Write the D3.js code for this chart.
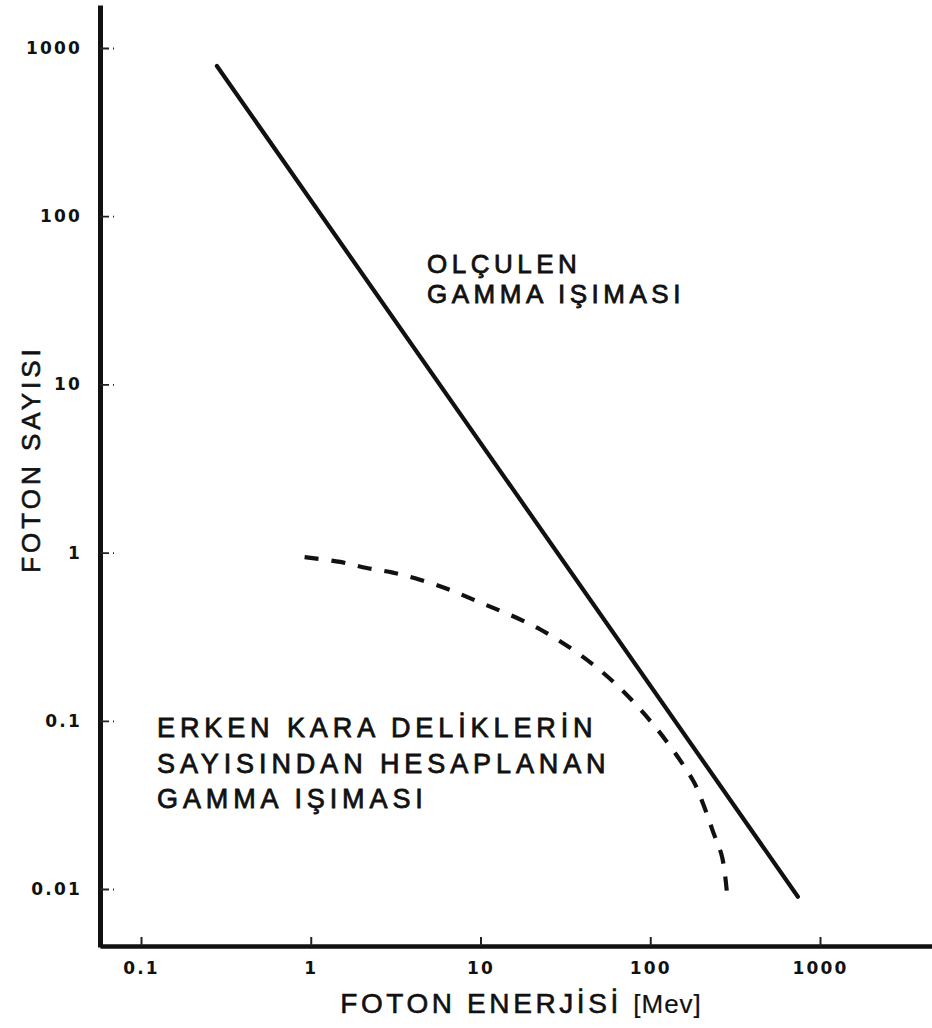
<!DOCTYPE html>
<html>
<head>
<meta charset="utf-8">
<script src="https://cdn.jsdelivr.net/npm/d3@7/dist/d3.min.js"></script>
<style>
	body { margin: 0; background: #fff; }
	svg { display: block; }
	text { font-family: 'Liberation Sans', Arial, sans-serif; fill: #111; }
</style>
</head>
<body>
<svg id="chart" width="932" height="1028"></svg>
<script>
// tick values / labels
const xTicks = [0.1, 1, 10, 100, 1000];
const xTickLabels = ['0.1', '1', '10', '100', '1000'];
const yTicks = [0.01, 0.1, 1, 10, 100, 1000];
const yTickLabels = ['0.01', '0.1', '1', '10', '100', '1000'];

// measured gamma radiation (straight line in log-log)
const measuredE = [0.28, 741];
const measuredN = [782, 0.009];

// gamma radiation computed from primordial black holes
const computedE = [0.92, 1.49, 2.14, 3.05, 4.4, 6.6, 9.3, 22.4, 50.6, 100, 179, 205, 234, 265, 283];
const computedN = [0.94, 0.88, 0.81, 0.76, 0.69, 0.60, 0.52, 0.35, 0.20, 0.10, 0.044, 0.032, 0.022, 0.0155, 0.0095];

const labelMeasured = ['OLÇULEN', 'GAMMA IŞIMASI'];
const labelComputed = ['ERKEN KARA DELİKLERİN', 'SAYISINDAN HESAPLANAN', 'GAMMA IŞIMASI'];

const svg = d3.select('#chart');

const x = d3.scaleLog().domain([0.1, 1000]).range([141, 820]);
x.domain([x.invert(100), x.invert(932)]).range([100, 932]);
const y = d3.scaleLog().domain([0.01, 1000]).range([889, 48]);
y.domain([y.invert(947), y.invert(5)]).range([947, 5]);

function styleTickText(sel) {
	sel.style('font-family', "'DejaVu Sans', sans-serif")
		.style('font-weight', 'bold')
		.style('font-size', '17px')
		.attr('letter-spacing', 2.2)
		.attr('fill', '#111');
}

//y axis
const yAxis = svg.append('g')
	.attr('transform', 'translate(100,0)')
	.call(d3.axisLeft(y)
		.tickValues(yTicks)
		.tickFormat((d, i) => yTickLabels[i])
		.tickSizeInner(-14)
		.tickSizeOuter(0)
		.tickPadding(18));
yAxis.select('.domain').attr('stroke', '#111').attr('stroke-width', 5);
yAxis.selectAll('.tick line').attr('stroke', '#222').attr('stroke-width', 1.8).attr('stroke-dasharray', '9 4 2 20');
yAxis.selectAll('.tick text').call(styleTickText);

//x axis
const xAxis = svg.append('g')
	.attr('transform', 'translate(0,946)')
	.call(d3.axisBottom(x)
		.tickValues(xTicks)
		.tickFormat((d, i) => xTickLabels[i])
		.tickSizeInner(-9)
		.tickSizeOuter(0)
		.tickPadding(16));
xAxis.select('.domain').attr('stroke', '#111').attr('stroke-width', 4.5);
xAxis.selectAll('.tick line').attr('stroke', '#222').attr('stroke-width', 2);
xAxis.selectAll('.tick text').call(styleTickText);

//axis titles
svg.append('text')
	.attr('x', 521)
	.attr('y', 1013)
	.attr('text-anchor', 'middle')
	.attr('letter-spacing', 3.6)
	.attr('stroke', '#111')
	.attr('stroke-width', 0.6)
	.style('font-size', '28px')
	.text('FOTON ENERJİSİ ')
	.append('tspan')
	.attr('letter-spacing', 1)
	.attr('stroke-width', 0.2)
	.style('font-size', '26px')
	.text('[Mev]');

svg.append('text')
	.attr('transform', 'translate(40,459) rotate(-90)')
	.attr('text-anchor', 'middle')
	.attr('letter-spacing', 4)
	.attr('stroke', '#111')
	.attr('stroke-width', 0.6)
	.style('font-size', '26px')
	.text('FOTON SAYISI');

//lines
const line = d3.line()
	.x(d => x(d[0]))
	.y(d => y(d[1]));

svg.append('path')
	.datum(measuredE.map((e, i) => [e, measuredN[i]]))
	.attr('d', line)
	.attr('fill', 'none')
	.attr('stroke', '#111')
	.attr('stroke-width', 4.2)
	.attr('stroke-linecap', 'round');

svg.append('path')
	.datum(computedE.map((e, i) => [e, computedN[i]]))
	.attr('d', line.curve(d3.curveCatmullRom))
	.attr('fill', 'none')
	.attr('stroke', '#111')
	.attr('stroke-width', 4.2)
	.attr('stroke-dasharray', '14 13');

//annotations
function addLabel(lines, left, firstBaseline, lineGap, size, spacing) {
	svg.append('text')
		.attr('x', left)
		.attr('y', firstBaseline)
		.attr('letter-spacing', spacing)
		.attr('stroke', '#111')
		.attr('stroke-width', 0.8)
		.style('font-size', size + 'px')
		.selectAll('tspan')
		.data(lines)
		.enter()
		.append('tspan')
		.attr('x', left)
		.attr('dy', (d, i) => (i ? lineGap : 0))
		.text(d => d);
}
addLabel(labelMeasured, 427, 273, 30, 26, 4.5);
addLabel(labelComputed, 157, 737, 35.5, 27, 4.9);
</script>
</body>
</html>
